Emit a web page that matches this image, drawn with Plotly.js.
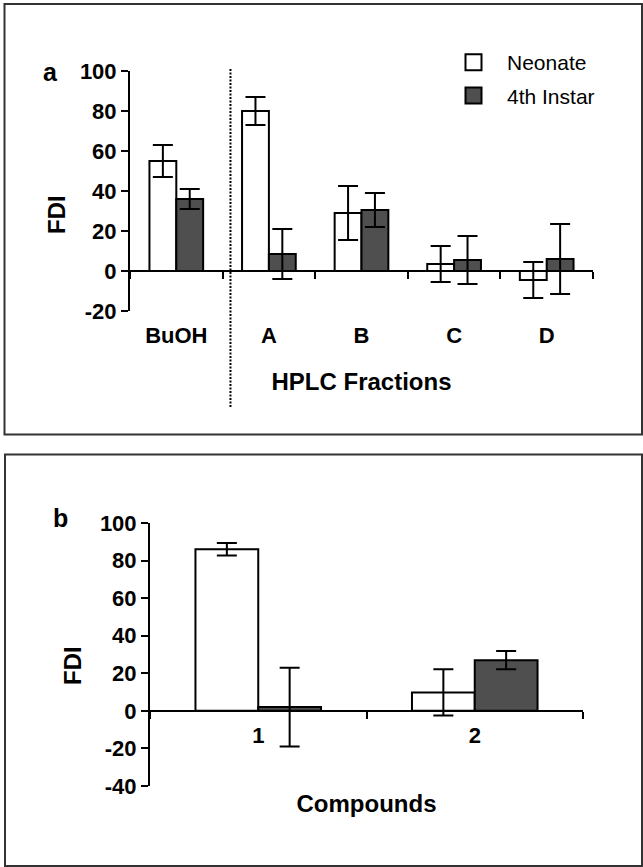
<!DOCTYPE html>
<html>
<head>
<meta charset="utf-8">
<script src="https://cdn.plot.ly/plotly-3.0.1.min.js"></script>
<style>html,body{margin:0;padding:0;background:#fff}#chart{width:643px;height:867px}</style>
</head>
<body>
<div id="chart"></div>
<script>
// ---- data ----
var fractions = ['BuOH', 'A', 'B', 'C', 'D'];
var neonateA = [55, 80, 29, 3.5, -4.5];
var neonateAErr = [8, 7, 13.5, 9, 9];
var instarA = [36, 8.5, 30.5, 5.5, 6];
var instarAErr = [5, 12.5, 8.5, 12, 17.5];

var compounds = ['1', '2'];
var neonateB = [86, 9.8];
var neonateBErr = [3.3, 12.3];
var instarB = [2, 27];
var instarBErr = [21, 4.8];

var seriesNames = ['Neonate', '4th Instar'];
var yTicksA = [-20, 0, 20, 40, 60, 80, 100];
var yTicksB = [-40, -20, 0, 20, 40, 60, 80, 100];

// ---- helpers ----
var W = 643, H = 867;
function fx(p) { return p / W; }
function fy(p) { return 1 - p / H; }
var FONT = '"Liberation Sans", Arial, Helvetica, sans-serif';
var GRAY = '#4f4f4f';

function barTrace(x, y, err, fill, xa, ya, name) {
  return {
    type: 'bar', x: x, y: y, name: name, xaxis: xa, yaxis: ya, showlegend: false,
    marker: { color: fill, line: { color: '#000', width: 2 } },
    error_y: { type: 'data', array: err, visible: true, color: '#000', thickness: 2, width: 10 },
    hoverinfo: 'skip'
  };
}

var data = [
  barTrace(fractions, neonateA, neonateAErr, '#fff', 'x', 'y', seriesNames[0]),
  barTrace(fractions, instarA, instarAErr, GRAY, 'x', 'y', seriesNames[1]),
  barTrace(compounds, neonateB, neonateBErr, '#fff', 'x2', 'y2', seriesNames[0]),
  barTrace(compounds, instarB, instarBErr, GRAY, 'x2', 'y2', seriesNames[1]),
  // legend entries
  { type: 'scatter', mode: 'markers', x: [null], y: [null], xaxis: 'x', yaxis: 'y',
    name: seriesNames[0], legendgroup: 'g1', showlegend: true,
    marker: { symbol: 'square', size: 20, color: '#fff', line: { color: '#000', width: 2 } } },
  { type: 'scatter', mode: 'markers', x: [null], y: [null], xaxis: 'x', yaxis: 'y',
    name: seriesNames[1], legendgroup: 'g2', showlegend: true,
    marker: { symbol: 'square', size: 20, color: GRAY, line: { color: '#000', width: 2 } } }
];

var tickFont = { family: FONT, size: 22, color: '#000', weight: 'bold' };
var titleFont = { family: FONT, size: 24, color: '#000', weight: 'bold' };

function yAxis(domain, range, ticks, anchor) {
  return {
    domain: domain, range: range, anchor: anchor, tickmode: 'array',
    tickvals: ticks, ticktext: ticks.map(String),
    ticks: 'outside', ticklen: 7, tickwidth: 2, tickcolor: '#000',
    showline: true, linewidth: 2, linecolor: '#000', showgrid: false, zeroline: false,
    tickfont: tickFont, fixedrange: true
  };
}
function xAxis(domain, pos, cats, title, labelOff, titleOff) {
  return {
    domain: domain, anchor: 'free', position: pos, type: 'category',
    categoryorder: 'array', categoryarray: cats, range: [-0.5, cats.length - 0.5],
    tickson: 'boundaries', ticks: 'outside', ticklen: 7, tickwidth: 2, tickcolor: '#000',
    showline: true, linewidth: 2, linecolor: '#000', showgrid: false, zeroline: false,
    tickfont: tickFont, ticklabelstandoff: labelOff, fixedrange: true,
    title: { text: title, font: titleFont, standoff: titleOff }
  };
}

var layout = {
  width: W, height: H,
  margin: { l: 0, r: 0, t: 0, b: 0 },
  paper_bgcolor: '#fff', plot_bgcolor: 'rgba(0,0,0,0)',
  font: { family: FONT, color: '#000' },
  barmode: 'group', bargap: 0.42, bargroupgap: 0,
  xaxis: xAxis([fx(130), fx(593)], fy(271), fractions, 'HPLC Fractions', 45, 25),
  yaxis: yAxis([fy(311), fy(71)], [-20, 100], yTicksA, 'x'),
  xaxis2: xAxis([fx(150), fx(583)], fy(711), compounds, 'Compounds', 5, 47),
  yaxis2: yAxis([fy(786), fy(523)], [-40, 100], yTicksB, 'x2'),
  showlegend: true,
  legend: {
    x: fx(440), y: fy(42), xanchor: 'left', yanchor: 'top',
    bgcolor: 'rgba(0,0,0,0)', borderwidth: 0, traceorder: 'grouped', tracegroupgap: 3,
    itemwidth: 57,
    font: { family: FONT, size: 21, color: '#000' }, itemsizing: 'trace'
  },
  shapes: [
    { type: 'rect', xref: 'paper', yref: 'paper', x0: fx(4.5), x1: fx(642), y0: fy(434.5), y1: fy(4),
      line: { color: '#333', width: 2 } },
    { type: 'rect', xref: 'paper', yref: 'paper', x0: fx(5), x1: fx(642), y0: fy(866), y1: fy(454.5),
      line: { color: '#333', width: 2 } },
    { type: 'line', xref: 'x', yref: 'paper', x0: 0.585, x1: 0.585, y0: fy(69), y1: fy(407),
      line: { color: '#000', width: 2, dash: '2px,1.5px' } }
  ],
  annotations: [
    { text: 'a', xref: 'paper', yref: 'paper', x: fx(50), y: fy(72), xanchor: 'center', yanchor: 'middle',
      showarrow: false, font: { family: FONT, size: 25, color: '#000', weight: 'bold' } },
    { text: 'b', xref: 'paper', yref: 'paper', x: fx(60), y: fy(518), xanchor: 'center', yanchor: 'middle',
      showarrow: false, font: { family: FONT, size: 25, color: '#000', weight: 'bold' } },
    { text: 'FDI', xref: 'paper', yref: 'paper', x: fx(56), y: fy(215), xanchor: 'center', yanchor: 'middle',
      textangle: -90, showarrow: false, font: titleFont },
    { text: 'FDI', xref: 'paper', yref: 'paper', x: fx(72), y: fy(666), xanchor: 'center', yanchor: 'middle',
      textangle: -90, showarrow: false, font: titleFont }
  ]
};

Plotly.newPlot('chart', data, layout, { displayModeBar: false, staticPlot: true });
</script>
</body>
</html>
